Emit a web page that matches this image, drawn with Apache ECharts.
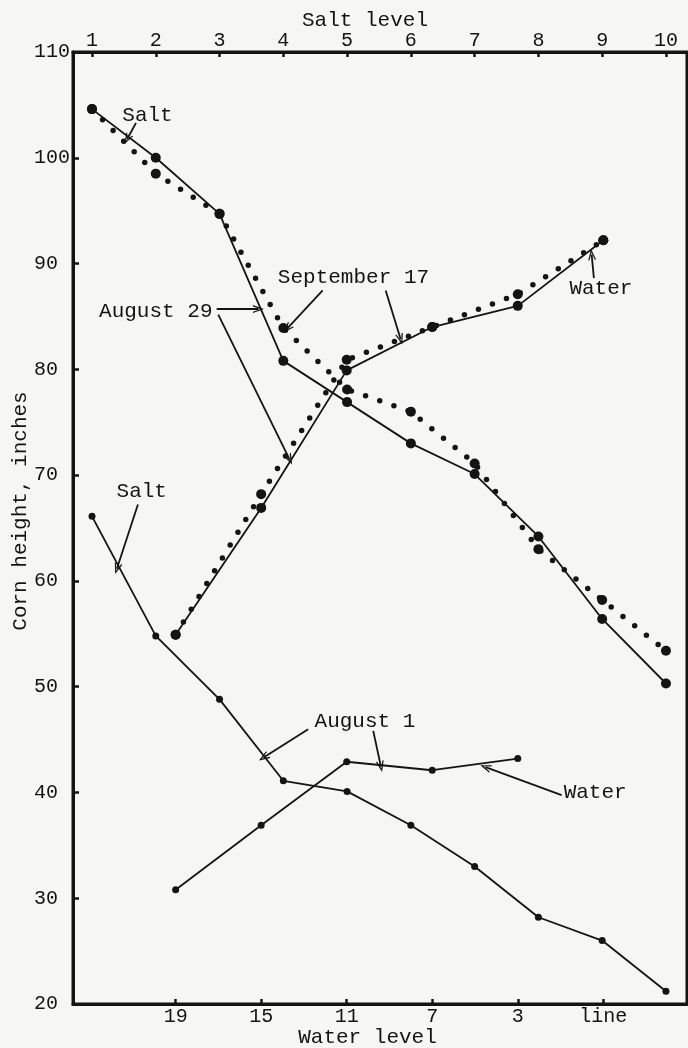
<!DOCTYPE html>
<html>
<head>
<meta charset="utf-8">
<script src="https://cdn.jsdelivr.net/npm/echarts@6/dist/echarts.min.js"></script>
<style>
  html, body { margin: 0; padding: 0; background: #f6f6f4; }
  #chart { width: 688px; height: 1048px; }
</style>
</head>
<body>
<div id="chart"></div>
<script>
// Corn height against salt level (top axis) and water level (bottom axis)
const saltLevels = [1, 2, 3, 4, 5, 6, 7, 8, 9, 10];
const waterLevels = [19, 15, 11, 7, 3, -1];           // -1 is the "line" treatment
const waterTickLabels = ['19', '15', '11', '7', '3', 'line'];
const heightTicks = [20, 30, 40, 50, 60, 70, 80, 90, 100, 110];

// Heights (inches), salt series
const saltAug1  = [66.1, 54.8, 48.8, 41.1, 40.1, 36.9, 33.0, 28.2, 26.0, 21.2];
const saltAug29 = [104.6, 100.0, 94.7, 80.8, 76.9, 73.0, 70.1, 64.2, 56.4, 50.3];
const saltSep17 = [104.6, 98.5, 94.7, 83.9, 78.1, 76.0, 71.1, 63.0, 58.2, 53.4];

// Heights (inches), water series
const waterAug1  = [30.8, 36.9, 42.9, 42.1, 43.2];
const waterAug29 = [54.9, 66.9, 79.9, 84.0, 86.0, 92.2];
const waterSep17 = [54.9, 68.2, 80.9, 84.0, 87.1, 92.2];

// Hand-lettered notes: [salt-axis x, height, text]
const noteTexts = [
  [1.87, 104.05, 'Salt'],
  [2.00, 85.50, 'August 29'],
  [5.10, 88.66, 'September 17'],
  [8.98, 87.69, 'Water'],
  [1.78, 68.50, 'Salt'],
  [5.28, 46.76, 'August 1'],
  [8.89, 40.00, 'Water']
];
// Pointer arrows: [x1, y1, x2, y2, curveness] in salt-axis / height units
const noteArrows = [
  [1.69, 103.30, 1.55, 101.75, 0.35],
  [2.955, 85.70, 3.61, 85.70, 0],
  [2.98, 85.17, 4.10, 71.47, 0],
  [4.617, 87.46, 4.06, 83.85, 0],
  [5.605, 87.46, 5.84, 82.85, 0],
  [8.87, 88.63, 8.835, 90.85, -0.2],
  [1.72, 67.22, 1.39, 61.15, 0],
  [4.39, 45.98, 3.69, 43.30, 0],
  [5.41, 45.82, 5.53, 42.45, 0],
  [8.364, 39.74, 7.17, 42.40, 0]
];

const INK = '#141414';
const FONT = "'Liberation Mono', 'DejaVu Sans Mono', monospace";
const chevron = 'path://M0,12 L5,0 L10,12 L8.3,12 L5,3.8 L1.7,12 Z';

const pair = (xs, ys) => ys.map((y, i) => [xs[i], y]);

const solid = (name, xIdx, data, size) => ({
  name, type: 'line', xAxisIndex: xIdx, yAxisIndex: 0, data,
  symbol: 'circle', symbolSize: size, showSymbol: true,
  itemStyle: { color: INK, opacity: 1 },
  lineStyle: { color: INK, width: 1.8, opacity: 1 },
  silent: true, z: 3
});
const dotted = (name, xIdx, data) => ({
  name, type: 'line', xAxisIndex: xIdx, yAxisIndex: 0, data,
  symbol: 'circle', symbolSize: 10, showSymbol: true,
  itemStyle: { color: INK, opacity: 1 },
  lineStyle: { color: INK, width: 5.5, type: [0, 15], cap: 'round', opacity: 1 },
  silent: true, z: 2
});

const chart = echarts.init(document.getElementById('chart'), null, { renderer: 'canvas' });

chart.setOption({
  animation: false,
  backgroundColor: '#f6f6f4',
  textStyle: { fontFamily: FONT, color: INK },
  grid: {
    left: 73, right: 1, top: 52, bottom: 44,
    outerBoundsMode: 'none', containLabel: false,
    show: true, borderColor: INK, borderWidth: 3, backgroundColor: 'transparent'
  },
  xAxis: [
    {
      type: 'value', position: 'top', min: 0.702, max: 10.33,
      name: 'Salt level', nameLocation: 'middle', nameGap: 21, nameMoveOverlap: false,
      nameTextStyle: { fontFamily: FONT, fontSize: 21, color: INK, padding: [0, 30, 0, 0] },
      axisLine: { show: true, onZero: false, lineStyle: { color: INK, width: 3 } },
      axisTick: { show: true, inside: true, length: 5, lineStyle: { color: INK, width: 2.5 }, customValues: saltLevels },
      axisLabel: { show: true, margin: 1, fontFamily: FONT, fontSize: 20, color: INK, customValues: saltLevels },
      splitLine: { show: false }
    },
    {
      type: 'value', position: 'bottom', inverse: true, min: -4.915, max: 23.80,
      name: 'Water level', nameLocation: 'middle', nameGap: 23, nameMoveOverlap: false,
      nameTextStyle: { fontFamily: FONT, fontSize: 21, color: INK, padding: [0, 25, 0, 0] },
      axisLine: { show: true, onZero: false, lineStyle: { color: INK, width: 3 } },
      axisTick: { show: true, inside: true, length: 5, lineStyle: { color: INK, width: 2.5 }, customValues: waterLevels },
      axisLabel: {
        show: true, margin: 3, fontFamily: FONT, fontSize: 20, color: INK, customValues: waterLevels,
        formatter: v => waterTickLabels[waterLevels.indexOf(v)] ?? ''
      },
      splitLine: { show: false }
    }
  ],
  yAxis: [
    {
      type: 'value', position: 'left', min: 20, max: 110, interval: 10,
      name: 'Corn height, inches', nameLocation: 'middle', nameGap: 42, nameMoveOverlap: false,
      nameTextStyle: { fontFamily: FONT, fontSize: 21, color: INK, padding: [0, 0, 0, 34] },
      axisLine: { show: true, onZero: false, lineStyle: { color: INK, width: 3 } },
      axisTick: { show: true, inside: true, length: 6, lineStyle: { color: INK, width: 2.5 } },
      axisLabel: {
        show: true, align: 'left', margin: 39, fontFamily: FONT, fontSize: 20, color: INK,
        formatter: v => heightTicks.includes(v) ? String(v) : ''
      },
      splitLine: { show: false }
    }
  ],
  series: [
    dotted('September 17 salt', 0, pair(saltLevels, saltSep17)),
    dotted('September 17 water', 1, pair(waterLevels, waterSep17)),
    solid('August 29 salt', 0, pair(saltLevels, saltAug29), 10),
    solid('August 29 water', 1, pair(waterLevels, waterAug29), 10),
    solid('August 1 salt', 0, pair(saltLevels, saltAug1), 7),
    solid('August 1 water', 1, pair(waterLevels, waterAug1), 7),
    {
      name: 'notes', type: 'scatter', xAxisIndex: 0, yAxisIndex: 0,
      symbolSize: 0, silent: true, z: 5,
      itemStyle: { color: 'rgba(0,0,0,0)', opacity: 1 },
      data: noteTexts.map(n => ({ value: [n[0], n[1]], name: n[2] })),
      label: {
        show: true, position: 'inside', formatter: '{b}', opacity: 1,
        fontFamily: FONT, fontSize: 21, color: INK, textBorderWidth: 0
      },
      markLine: {
        silent: true, animation: false,
        symbol: ['none', chevron], symbolSize: [8, 11],
        label: { show: false },
        itemStyle: { color: INK, opacity: 1 },
        lineStyle: { color: INK, width: 1.8, type: 'solid', opacity: 1 },
        emphasis: { disabled: true },
        data: noteArrows.map(a => [
          { coord: [a[0], a[1]], lineStyle: { curveness: a[4] } },
          { coord: [a[2], a[3]] }
        ])
      }
    }
  ]
});
</script>
</body>
</html>
